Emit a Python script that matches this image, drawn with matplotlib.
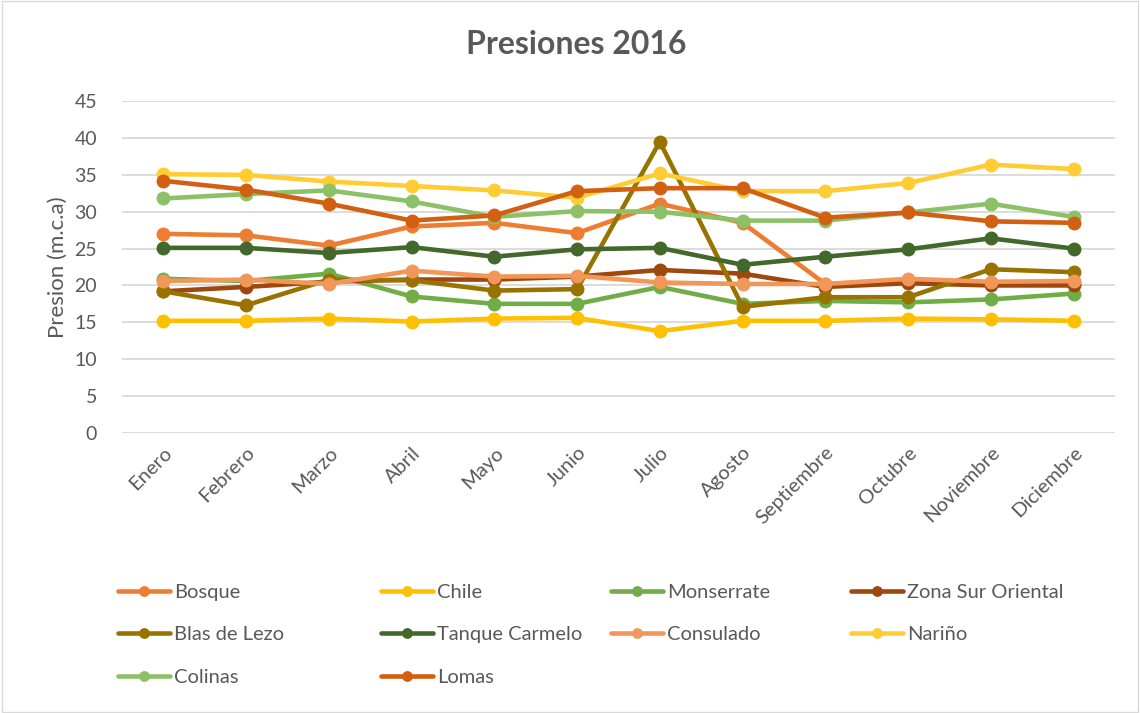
import matplotlib.pyplot as plt
from matplotlib.patches import Rectangle

plt.rcParams['font.family'] = ['Lato', 'DejaVu Sans']

meses = ['Enero', 'Febrero', 'Marzo', 'Abril', 'Mayo', 'Junio', 'Julio',
         'Agosto', 'Septiembre', 'Octubre', 'Noviembre', 'Diciembre']

# presiones por sector (m.c.a)
bosque = [27.0, 26.8, 25.4, 28.0, 28.5, 27.1, 31.1, 28.5, 20.2, 20.6, 20.3, 20.3]
chile = [15.2, 15.2, 15.5, 15.1, 15.5, 15.6, 13.8, 15.2, 15.2, 15.5, 15.4, 15.2]
monserrate = [20.9, 20.6, 21.6, 18.5, 17.5, 17.5, 19.8, 17.5, 17.9, 17.7, 18.1, 18.9]
zona_sur = [19.2, 19.8, 20.5, 20.8, 20.8, 21.2, 22.1, 21.6, 19.8, 20.3, 20.0, 20.0]
blas_lezo = [19.2, 17.3, 20.8, 20.7, 19.3, 19.5, 39.5, 17.1, 18.4, 18.4, 22.2, 21.8]
tanque = [25.1, 25.1, 24.4, 25.2, 23.9, 24.9, 25.1, 22.8, 23.9, 24.9, 26.4, 25.0]
consulado = [20.6, 20.8, 20.2, 22.0, 21.2, 21.3, 20.4, 20.2, 20.2, 20.9, 20.5, 20.6]
narino = [35.1, 35.0, 34.1, 33.5, 32.9, 31.9, 35.2, 32.8, 32.8, 33.9, 36.4, 35.8]
colinas = [31.8, 32.4, 32.9, 31.4, 29.3, 30.1, 30.0, 28.8, 28.8, 29.9, 31.1, 29.3]
lomas = [34.2, 33.0, 31.1, 28.8, 29.5, 32.8, 33.2, 33.2, 29.2, 29.9, 28.7, 28.5]

nombres = ['Bosque', 'Chile', 'Monserrate', 'Zona Sur Oriental', 'Blas de Lezo',
           'Tanque Carmelo', 'Consulado', 'Nariño', 'Colinas', 'Lomas']
series = [bosque, chile, monserrate, zona_sur, blas_lezo, tanque, consulado,
          narino, colinas, lomas]
colores = ['#ED7D31', '#FFC000', '#70AD47', '#9E480E', '#997300',
           '#43682B', '#F1975A', '#FFCD33', '#8CC168', '#D26012']

gris = '#595959'

fig = plt.figure(figsize=(11.4, 7.13), dpi=100)
ax = fig.add_axes([0.107, 0.393, 0.871, 0.465])

x = list(range(len(meses)))
lineas = []
for vals, nom, col in zip(series, nombres, colores):
    l, = ax.plot(x, vals, color=col, lw=3.3, marker='o', ms=9, label=nom,
                 solid_capstyle='round')
    lineas.append(l)

ax.set_xlim(-0.5, 11.5)
ax.set_ylim(0, 45)
ax.set_yticks(range(0, 46, 5))
ax.set_xticks(x)
ax.set_xticklabels(meses, rotation=45, ha='right', rotation_mode='anchor')
ax.grid(axis='y', color='#D9D9D9', lw=1.3)
ax.set_axisbelow(True)
for s in ax.spines.values():
    s.set_visible(False)
ax.tick_params(length=0, labelcolor=gris)
ax.tick_params(axis='x', pad=8, labelsize=14.5)
ax.tick_params(axis='y', pad=18, labelsize=14)

ax.set_ylabel('Presion (m.c.a)', fontsize=16, color=gris)
ax.yaxis.set_label_coords(-0.055, 0.5)
fig.text(0.505, 0.937, 'Presiones 2016', ha='center', va='center',
         fontsize=23, fontweight='bold', color=gris)

# leyenda en 4 columnas, filas como en Excel
columnas = [[0, 4, 8], [1, 5, 9], [2, 6], [3, 7]]
xs = [108, 371, 601, 841]
for cols, xp in zip(columnas, xs):
    leg = fig.legend([lineas[i] for i in cols], [nombres[i] for i in cols],
                     loc='upper left', bbox_to_anchor=(xp / 1140, 1 - 574 / 713),
                     frameon=False, fontsize=14.5, handlelength=2.6,
                     handletextpad=0.2, labelspacing=1.25, borderpad=0,
                     markerscale=0.75)
    for t in leg.get_texts():
        t.set_color(gris)

fig.patches.append(Rectangle((0.002, 0.002), 0.996, 0.996, transform=fig.transFigure,
                             fill=False, ec='#D9D9D9', lw=1))

fig.savefig('out.png', dpi=100)
